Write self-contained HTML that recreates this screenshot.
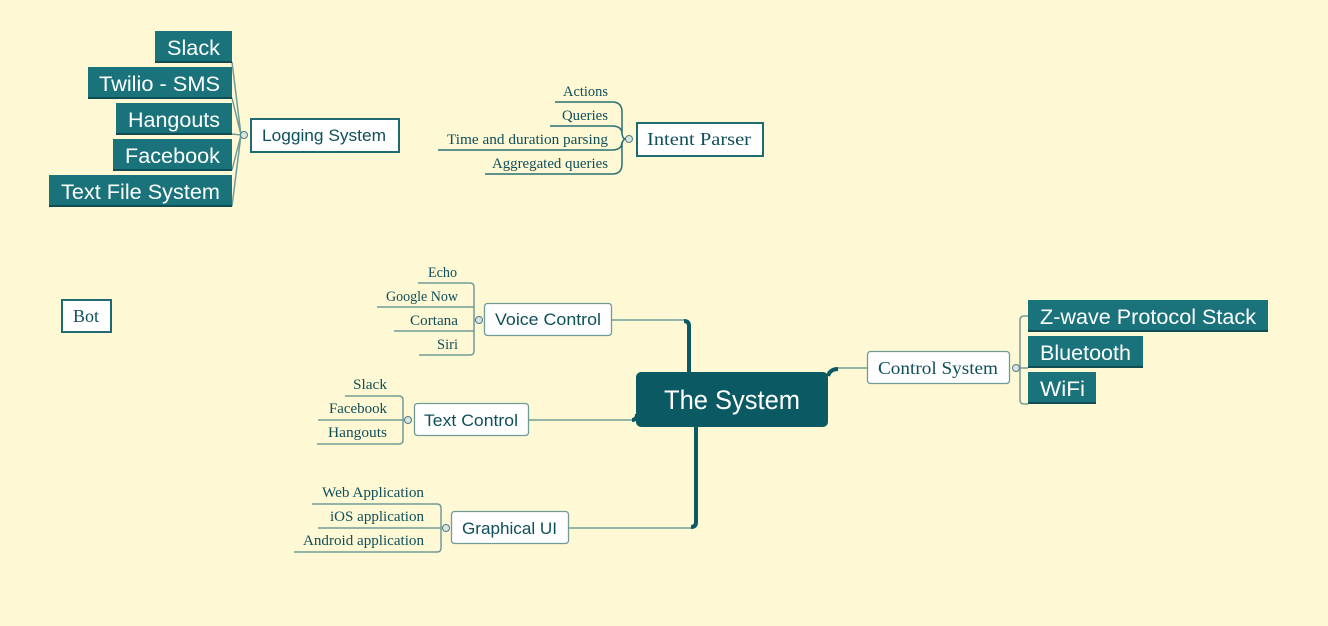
<!DOCTYPE html>
<html><head><meta charset="utf-8"><style>
html,body{margin:0;padding:0;background:#fff8d5;}
svg{display:block}
.s{font-family:"Liberation Sans",sans-serif;}
.r{font-family:"Liberation Serif",serif;}
</style></head><body>
<svg width="1328" height="626" viewBox="0 0 1328 626" xmlns="http://www.w3.org/2000/svg">
<rect width="1328" height="626" fill="#fff8d5"/>
<g fill="none" stroke="#6f9c96" stroke-width="1.5">
<path d="M241 135 L232 62 M241 135 L232 98 M241 135 L232 134 M241 135 L232 170 M241 135 L232 206"/>
<path d="M555 102 H612 Q622 102 622 112 V132 Q622 139 626 139 M550 126 H612 Q622 126 622 134 M438 150 H612 Q622 150 622 142 M485 174 H612 Q622 174 622 164 V146 Q622 139 626 139" stroke="#2a6f73"/>
<path d="M418 283 H470 Q474 283 474 287 V351 Q474 355 470 355 H419 M377 307 H474 M394 331 H474 M474 320 H476"/>
<path d="M345 396 H399 Q403 396 403 400 V440 Q403 444 399 444 H317 M318 420 H405"/>
<path d="M312 504 H437 Q441 504 441 508 V548 Q441 552 437 552 H294 M318 528 H442"/>
<path d="M1028 316 H1024 Q1020 316 1020 320 V400 Q1020 404 1024 404 H1028 M1019 368 H1028"/>
<path d="M612 320 H684 M529 420 H632 M569 528 H692 M838 368 H867"/>
</g>
<g fill="none" stroke="#0b5a63" stroke-width="4">
<path d="M684 321 Q689 321 689 326 V373"/>
<path d="M696 426 V522 Q696 527 691 527"/>
<path d="M632 420 Q637 420 637 414"/>
<path d="M828 376 Q830 369 838 369"/>
</g>
<g fill="#d9e3e0" stroke="#4f7f82" stroke-width="1">
<circle cx="244" cy="135" r="3.5"/><circle cx="629" cy="139" r="3.5"/>
<circle cx="479" cy="320" r="3.5"/><circle cx="408" cy="420" r="3.5"/>
<circle cx="446" cy="528" r="3.5"/><circle cx="1016" cy="368" r="3.5"/>
</g>
<g fill="#1a737b">
<rect x="155" y="31" width="77" height="31"/><rect x="88" y="67" width="144" height="31"/>
<rect x="116" y="103" width="116" height="31"/><rect x="113" y="139" width="119" height="31"/>
<rect x="49" y="175" width="183" height="31"/>
<rect x="1028" y="300" width="240" height="31"/><rect x="1028" y="336" width="115" height="31"/>
<rect x="1028" y="372" width="68" height="31"/>
</g>
<g fill="#0f4d53">
<rect x="155" y="61" width="77" height="2"/><rect x="88" y="97" width="144" height="2"/>
<rect x="116" y="133" width="116" height="2"/><rect x="113" y="169" width="119" height="2"/>
<rect x="49" y="205" width="183" height="2"/>
<rect x="1028" y="330" width="240" height="2"/><rect x="1028" y="366" width="115" height="2"/>
<rect x="1028" y="402" width="68" height="2"/>
</g>
<g class="s" fill="#fff" font-size="21">
<text x="167" y="55" textLength="53" lengthAdjust="spacingAndGlyphs">Slack</text>
<text x="99" y="91" textLength="121" lengthAdjust="spacingAndGlyphs">Twilio - SMS</text>
<text x="128" y="127" textLength="92" lengthAdjust="spacingAndGlyphs">Hangouts</text>
<text x="125" y="163" textLength="95" lengthAdjust="spacingAndGlyphs">Facebook</text>
<text x="61" y="199" textLength="159" lengthAdjust="spacingAndGlyphs">Text File System</text>
<text x="1040" y="324" textLength="216" lengthAdjust="spacingAndGlyphs">Z-wave Protocol Stack</text>
<text x="1040" y="360" textLength="91" lengthAdjust="spacingAndGlyphs">Bluetooth</text>
<text x="1040" y="396" textLength="45" lengthAdjust="spacingAndGlyphs">WiFi</text>
</g>
<g fill="#fff" stroke="#1d6a70" stroke-width="2">
<rect x="251" y="119" width="148" height="33"/>
<rect x="637" y="123" width="126" height="33"/>
<rect x="62" y="300" width="49" height="32"/>
</g>
<g fill="#fff" stroke="#6f9c96" stroke-width="1.3">
<rect x="484.5" y="303.5" width="127" height="32" rx="3"/>
<rect x="414.5" y="403.5" width="114" height="32" rx="3"/>
<rect x="451.5" y="511.5" width="117" height="32" rx="3"/>
<rect x="867.5" y="351.5" width="142" height="32" rx="3"/>
</g>
<rect x="636" y="372" width="192" height="55" rx="5" fill="#0b5a63"/>
<text x="664" y="409" class="s" fill="#fff" font-size="27" textLength="136" lengthAdjust="spacingAndGlyphs">The System</text>
<g class="s" fill="#0e4f5a" font-size="17">
<text x="262" y="141" textLength="124" lengthAdjust="spacingAndGlyphs">Logging System</text>
<text x="495" y="325" textLength="106" lengthAdjust="spacingAndGlyphs">Voice Control</text>
<text x="424" y="426" textLength="94" lengthAdjust="spacingAndGlyphs">Text Control</text>
<text x="462" y="534" textLength="95" lengthAdjust="spacingAndGlyphs">Graphical UI</text>
</g>
<g class="r" fill="#0e4f5a" font-size="18">
<text x="647" y="145" textLength="104" lengthAdjust="spacingAndGlyphs">Intent Parser</text>
<text x="878" y="374" textLength="120" lengthAdjust="spacingAndGlyphs">Control System</text>
<text x="73" y="322" textLength="26" lengthAdjust="spacingAndGlyphs">Bot</text>
</g>
<g class="r" fill="#0e4f5a" font-size="14.5">
<text x="563" y="96" textLength="45" lengthAdjust="spacingAndGlyphs">Actions</text>
<text x="562" y="120" textLength="46" lengthAdjust="spacingAndGlyphs">Queries</text>
<text x="447" y="144" textLength="161" lengthAdjust="spacingAndGlyphs">Time and duration parsing</text>
<text x="492" y="168" textLength="116" lengthAdjust="spacingAndGlyphs">Aggregated queries</text>
<text x="428" y="277" textLength="29" lengthAdjust="spacingAndGlyphs">Echo</text>
<text x="386" y="301" textLength="72" lengthAdjust="spacingAndGlyphs">Google Now</text>
<text x="410" y="325" textLength="48" lengthAdjust="spacingAndGlyphs">Cortana</text>
<text x="437" y="349" textLength="21" lengthAdjust="spacingAndGlyphs">Siri</text>
<text x="353" y="389" textLength="34" lengthAdjust="spacingAndGlyphs">Slack</text>
<text x="329" y="413" textLength="58" lengthAdjust="spacingAndGlyphs">Facebook</text>
<text x="328" y="437" textLength="59" lengthAdjust="spacingAndGlyphs">Hangouts</text>
<text x="322" y="497" textLength="102" lengthAdjust="spacingAndGlyphs">Web Application</text>
<text x="330" y="521" textLength="94" lengthAdjust="spacingAndGlyphs">iOS application</text>
<text x="303" y="545" textLength="121" lengthAdjust="spacingAndGlyphs">Android application</text>
</g>
</svg>
</body></html>
